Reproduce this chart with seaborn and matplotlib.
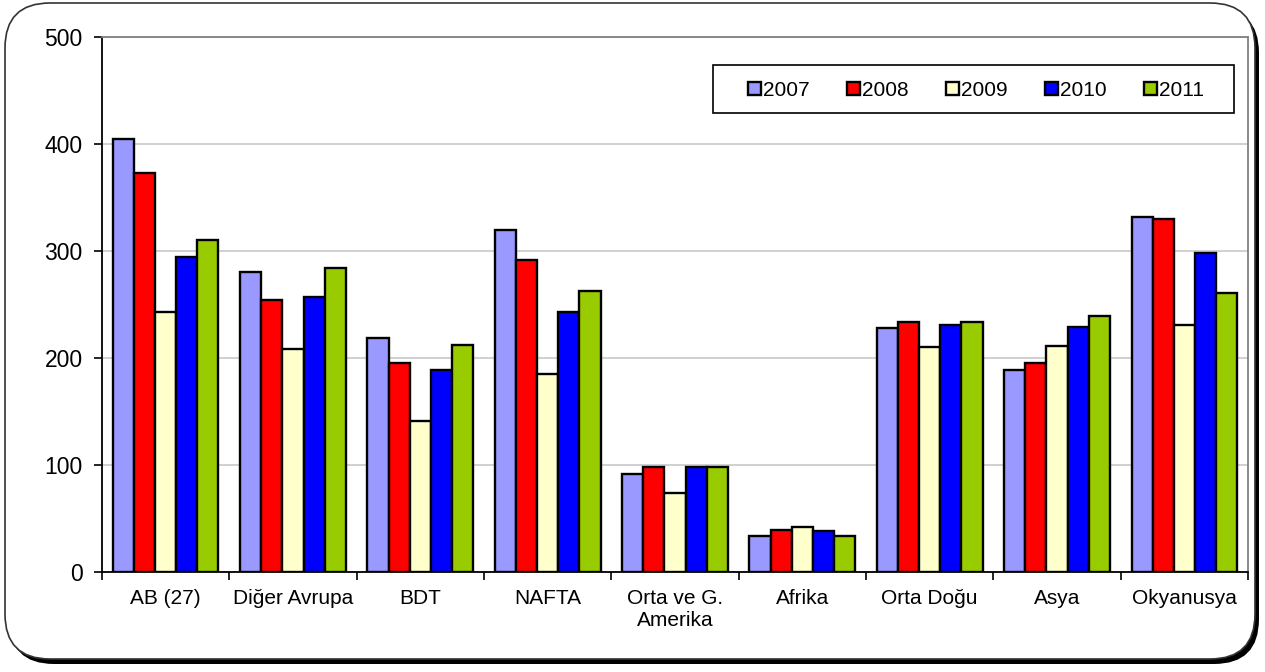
import numpy as np
import pandas as pd
import seaborn as sns
import matplotlib.pyplot as plt
from matplotlib.patches import FancyBboxPatch, Rectangle


# data                ----------------------------------------------------------------
regions = ["AB (27)", "Diğer Avrupa", "BDT", "NAFTA", "Orta ve G.\nAmerika",
           "Afrika", "Orta Doğu", "Asya", "Okyanusya"]
years = ["2007", "2008", "2009", "2010", "2011"]

v2007 = [405, 280, 219, 320, 92, 34, 228, 189, 332]
v2008 = [373, 254, 195, 292, 98, 39, 234, 195, 330]
v2009 = [243, 208, 141, 185, 74, 42, 210, 211, 231]
v2010 = [294, 257, 189, 243, 98, 38, 231, 229, 298]
v2011 = [310, 284, 212, 263, 98, 34, 234, 239, 261]

colors = ["#9999FF", "#FF0000", "#FFFFCC", "#0000FF", "#99CC00"]

df = pd.DataFrame({
    "region": regions * len(years),
    "year": np.repeat(years, len(regions)),
    "value": v2007 + v2008 + v2009 + v2010 + v2011,
})

# plot                ----------------------------------------------------------------
sns.set_style("white")
plt.rcParams["font.family"] = ["Liberation Sans", "DejaVu Sans"]
plt.rcParams["text.color"] = "black"
plt.rcParams["xtick.color"] = "black"
plt.rcParams["ytick.color"] = "black"

fig = plt.figure(figsize=(12.65, 6.72), dpi=100)

# Rounded outer frame with a dark shadow
shadow = FancyBboxPatch((0.09, 0.08), 12.5, 6.56,
                        boxstyle="round,pad=0,rounding_size=0.45",
                        transform=fig.dpi_scale_trans,
                        facecolor="black", edgecolor="none", zorder=-2)
frame = FancyBboxPatch((0.05, 0.13), 12.5, 6.56,
                       boxstyle="round,pad=0,rounding_size=0.45",
                       transform=fig.dpi_scale_trans,
                       facecolor="white", edgecolor="#333333", linewidth=1.2, zorder=-1)
fig.patches.extend([shadow, frame])

ax = fig.add_axes([0.0806, 0.1488, 0.9060, 0.7962])

sns.barplot(data=df, x="region", y="value", hue="year", palette=colors,
            width=0.83, edgecolor="black", linewidth=1.7, saturation=1,
            ax=ax, zorder=3)

ax.set_ylim(0, 500)
ax.set_xlim(-0.5, 8.5)
ax.set_yticks(range(0, 501, 100))
ax.yaxis.grid(True, color="#c8c8c8", linewidth=1.2, zorder=0)
ax.set_axisbelow(True)

# Ticks between groups, not under labels
ax.set_xticks(np.arange(-0.5, 9.0, 1), minor=True)
ax.tick_params(axis="x", which="major", length=0, pad=12, labelsize=15, labelcolor="black")
ax.tick_params(axis="x", which="minor", length=6, width=1.2, direction="out", color="black")
ax.tick_params(axis="y", length=6, width=1.2, direction="out", color="black",
               labelsize=16.5, pad=8, labelcolor="black")
ax.tick_params(bottom=True, left=True, which="both")

ax.set_xlabel("")
ax.set_ylabel("")

for side in ["left", "bottom"]:
    ax.spines[side].set_color("black")
    ax.spines[side].set_linewidth(1.3)
for side in ["top", "right"]:
    ax.spines[side].set_color("#808080")
    ax.spines[side].set_linewidth(1.3)

# Legend box drawn separately so the entries sit like in the original
ax.add_patch(Rectangle((0.533, 0.857), 0.455, 0.0903, transform=ax.transAxes,
                       facecolor="white", edgecolor="black", linewidth=1.2, zorder=6))
leg = ax.legend(ncol=5, loc="center left", bbox_to_anchor=(0.564, 0.9004),
                borderaxespad=0, borderpad=0, frameon=False, fontsize=15,
                handlelength=0.61, handleheight=0.61, handletextpad=0.1,
                columnspacing=1.8, title=None)
for t in leg.get_texts():
    t.set_color("black")
leg.set_zorder(7)

plt.savefig("out.png", dpi=100)
